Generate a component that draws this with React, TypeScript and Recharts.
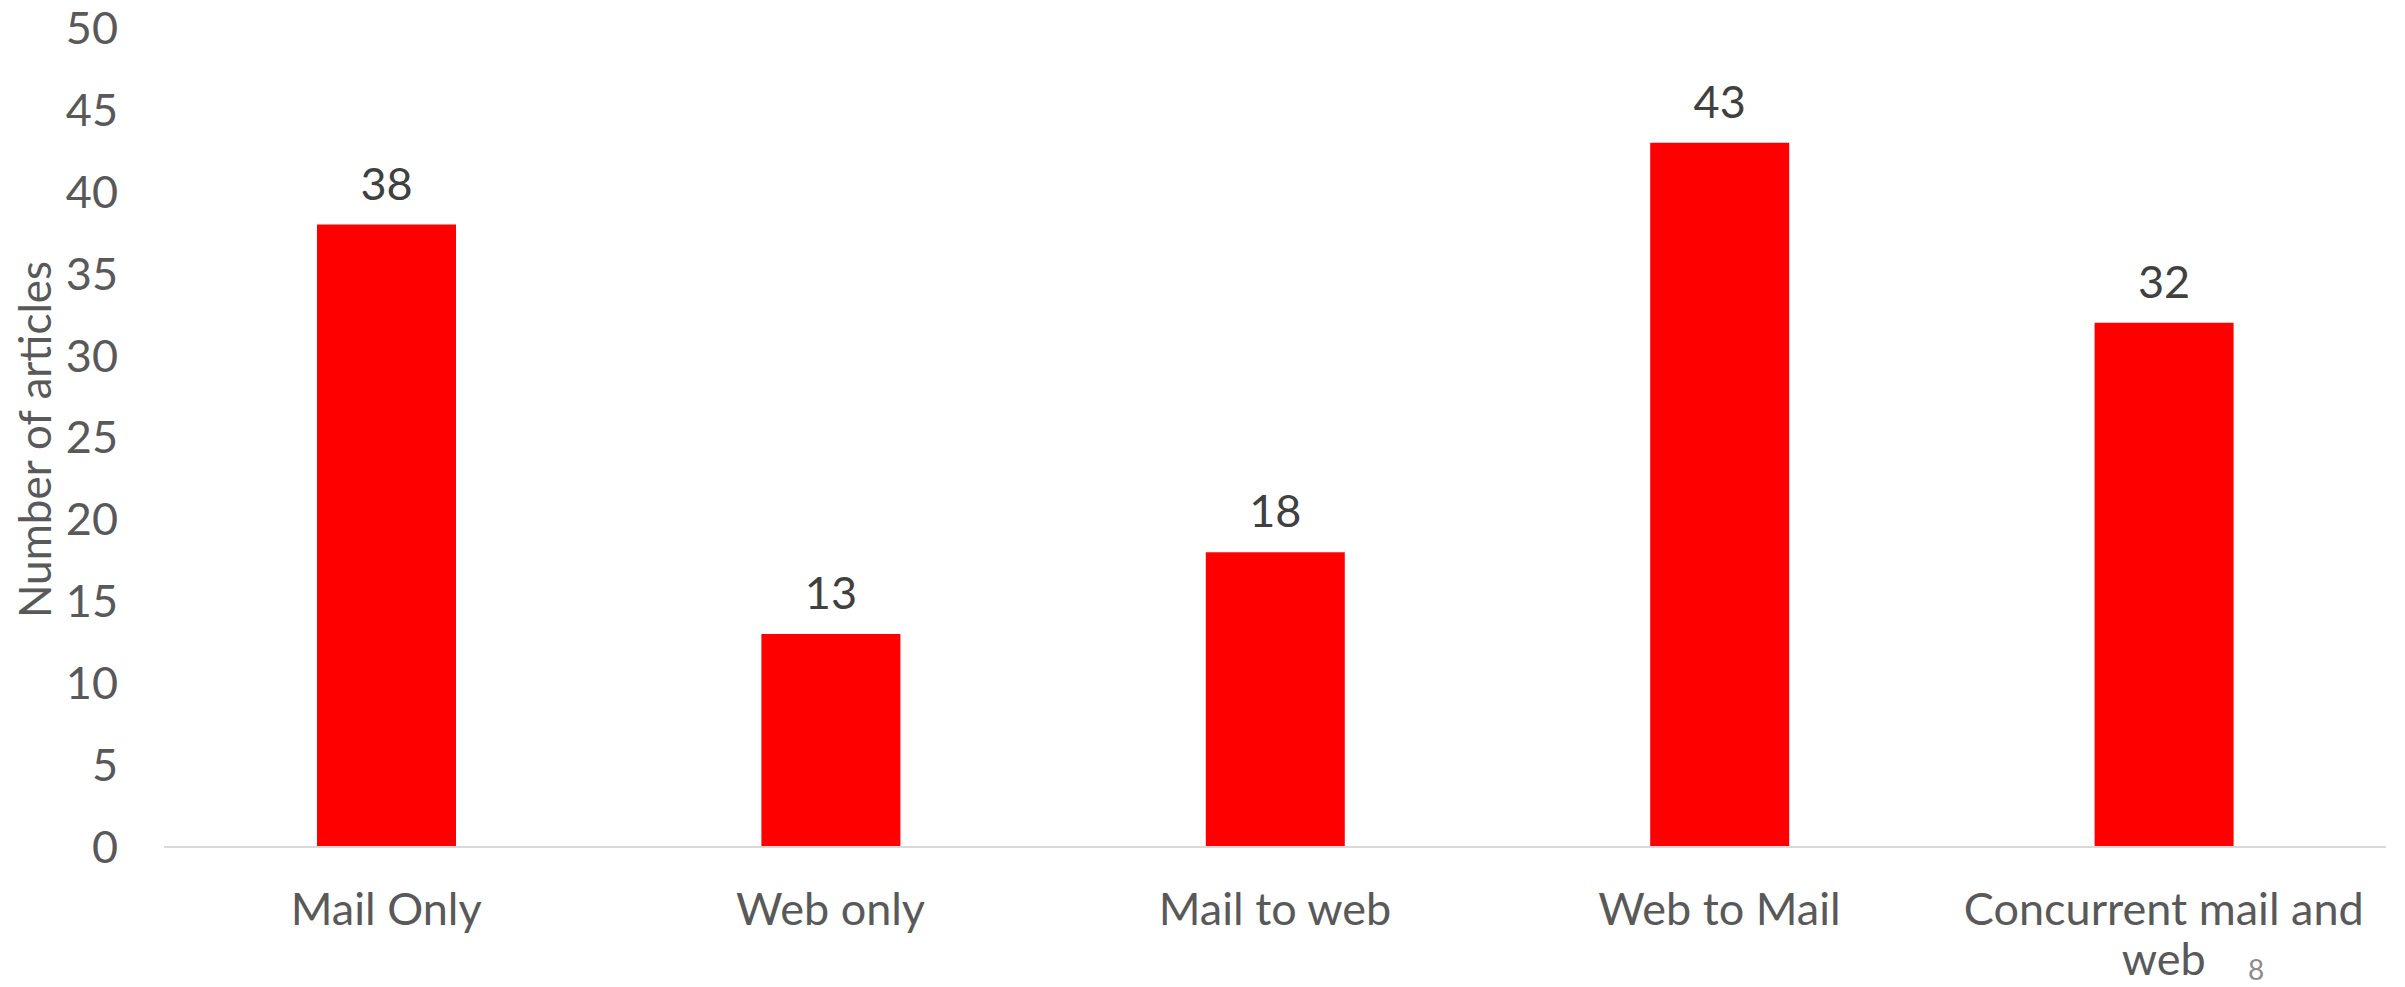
import { Bar, BarChart, LabelList, XAxis, YAxis } from 'recharts'

const categories = ['Mail Only', 'Web only', 'Mail to web', 'Web to Mail', 'Concurrent mail and web']
const articleCounts = [38, 13, 18, 43, 32]
const yTicks = [0, 5, 10, 15, 20, 25, 30, 35, 40, 45, 50]

const data = categories.map((name, i) => ({ name, count: articleCounts[i] }))

const FONT = 'Lato, "Open Sans", sans-serif'

// greedy word wrap, roughly what the slide did for the long label
function wrapLabel(label: string, maxChars = 19) {
  const lines: string[] = []
  let cur = ''
  for (const w of label.split(' ')) {
    const next = cur ? cur + ' ' + w : w
    if (next.length > maxChars && cur) {
      lines.push(cur)
      cur = w
    } else {
      cur = next
    }
  }
  if (cur) lines.push(cur)
  return lines
}

function CategoryTick(props: any) {
  const { x, y, payload } = props
  const lines = wrapLabel(String(payload.value))
  return (
    <text x={x} y={y + 76} textAnchor="middle" fill="#595959" fontSize={45} fontFamily={FONT}>
      {lines.map((line, i) => (
        <tspan key={i} x={x} dy={i === 0 ? 0 : 50}>
          {line}
        </tspan>
      ))}
    </text>
  )
}

function AxisTitle(props: any) {
  const { viewBox } = props
  const cx = 34
  const cy = viewBox.y + viewBox.height / 2 + 2
  return (
    <text
      x={cx}
      y={cy}
      transform={`rotate(-90, ${cx}, ${cy})`}
      textAnchor="middle"
      dominantBaseline="central"
      fill="#595959"
      fontSize={44}
      fontFamily={FONT}
    >
      Number of articles
    </text>
  )
}

export default function App() {
  return (
    <div style={{ position: 'absolute', left: 0, top: 0, width: 2405, height: 987, background: '#fff' }}>
      <BarChart
        width={2405}
        height={987}
        data={data}
        margin={{ top: 28, right: 19, left: 0, bottom: 0 }}
        barSize={139}
      >
        <XAxis
          dataKey="name"
          height={140}
          axisLine={{ stroke: '#d9d9d9', strokeWidth: 2 }}
          tickLine={false}
          tickSize={0}
          interval={0}
          tick={<CategoryTick />}
        />
        <YAxis
          width={164}
          domain={[0, 50]}
          ticks={yTicks}
          axisLine={false}
          tickLine={false}
          tickSize={0}
          tickMargin={46}
          tick={{ fill: '#595959', fontSize: 45, fontFamily: FONT }}
          label={<AxisTitle />}
        />
        <Bar dataKey="count" fill="#ff0000" isAnimationActive={false}>
          <LabelList
            dataKey="count"
            position="top"
            offset={25}
            fill="#404040"
            fontSize={45}
            fontFamily={FONT}
          />
        </Bar>
      </BarChart>
      <div
        style={{
          position: 'absolute',
          left: 2248,
          top: 952,
          fontSize: 28,
          color: '#8c8c8c',
          fontFamily: FONT,
        }}
      >
        8
      </div>
    </div>
  )
}
